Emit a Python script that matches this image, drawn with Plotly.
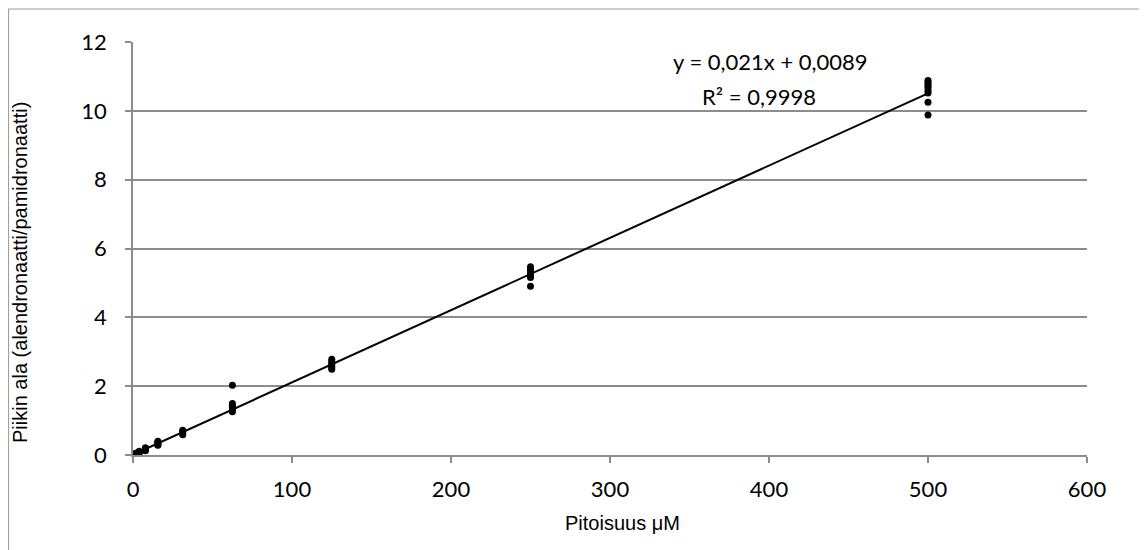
import plotly.graph_objects as go

# concentrations (µM) and measured peak-area ratios
conc = ([500] * 9 + [250] * 6 + [125] * 6 + [62.5] * 6 + [31.25] * 5 +
        [15.625] * 5 + [7.8125] * 4 + [3.90625] * 3 + [1.953] * 3 + [0.977] * 3)
ratio = ([10.88, 10.83, 10.78, 10.72, 10.66, 10.58, 10.52, 10.25, 9.88] +
         [5.47, 5.40, 5.32, 5.24, 5.16, 4.90] +
         [2.78, 2.72, 2.66, 2.60, 2.54, 2.49] +
         [2.03, 1.50, 1.44, 1.38, 1.31, 1.26] +
         [0.72, 0.68, 0.65, 0.62, 0.59] +
         [0.40, 0.36, 0.33, 0.30, 0.28] +
         [0.21, 0.18, 0.15, 0.12] +
         [0.11, 0.08, 0.06] +
         [0.06, 0.04, 0.03] +
         [0.03, 0.02, 0.01])

slope = 0.021
intercept = 0.0089
trend_x = [0, 500]
trend_y = [slope * x + intercept for x in trend_x]

x_ticks = [0, 100, 200, 300, 400, 500, 600]
y_ticks = [0, 2, 4, 6, 8, 10, 12]

x_title = "Pitoisuus μM"
y_title = "Piikin ala (alendronaatti/pamidronaatti)"

W, H = 1139, 542
L, T, PW, PH = 125, 34, 954, 413

fig = go.Figure()
fig.add_trace(go.Scatter(x=trend_x, y=trend_y, mode="lines",
                         line=dict(color="black", width=2), showlegend=False,
                         hoverinfo="skip"))
fig.add_trace(go.Scatter(x=conc, y=ratio, mode="markers",
                         marker=dict(color="black", size=7), showlegend=False))

grid = "#8c8c8c"
tickfont = dict(family="Lato, Carlito, sans-serif", size=22, color="black")
titlefont = dict(family="Liberation Sans, Arial", size=20, color="black")
fig.update_layout(
    width=W, height=H,
    margin=dict(l=L, r=W - L - PW, t=T, b=H - T - PH, autoexpand=False),
    plot_bgcolor="white", paper_bgcolor="white",
    xaxis=dict(range=[0, 600], tickvals=x_ticks, showgrid=False,
               showline=True, linecolor=grid, linewidth=1.5,
               ticks="outside", ticklen=6, tickcolor=grid, tickwidth=1.5,
               tickfont=tickfont, zeroline=False, ticklabelstandoff=8),
    yaxis=dict(range=[0, 12], tickvals=y_ticks, showgrid=True,
               gridcolor=grid, gridwidth=1.5,
               showline=True, linecolor=grid, linewidth=1.5,
               ticks="outside", ticklen=6, tickcolor=grid, tickwidth=1.5,
               tickfont=tickfont, zeroline=False, ticklabelstandoff=14),
    annotations=[
        dict(x=401, y=11.42, xref="x", yref="y", text="y = 0,021x + 0,0089",
             showarrow=False, font=tickfont),
        dict(x=394, y=10.43, xref="x", yref="y", text="R² = 0,9998",
             showarrow=False, font=tickfont),
        dict(x=(622 - 8 - L) / PW, y=(T + PH - 515) / PH, xref="paper", yref="paper",
             text=x_title, showarrow=False, font=titlefont,
             xanchor="center", yanchor="middle"),
        dict(x=(12 - L) / PW, y=(T + PH - 265) / PH, xref="paper", yref="paper",
             text=y_title, showarrow=False, font=titlefont, textangle=-90,
             xanchor="center", yanchor="middle"),
    ],
    shapes=[dict(type="rect", xref="paper", yref="paper",
                 x0=(0.5 - L) / PW, x1=(1137 - L) / PW,
                 y0=(T + PH - 560) / PH, y1=(T + PH - 1) / PH,
                 line=dict(color="#a0a0a0", width=1.2), layer="below")],
)
fig.write_html("out.html")
